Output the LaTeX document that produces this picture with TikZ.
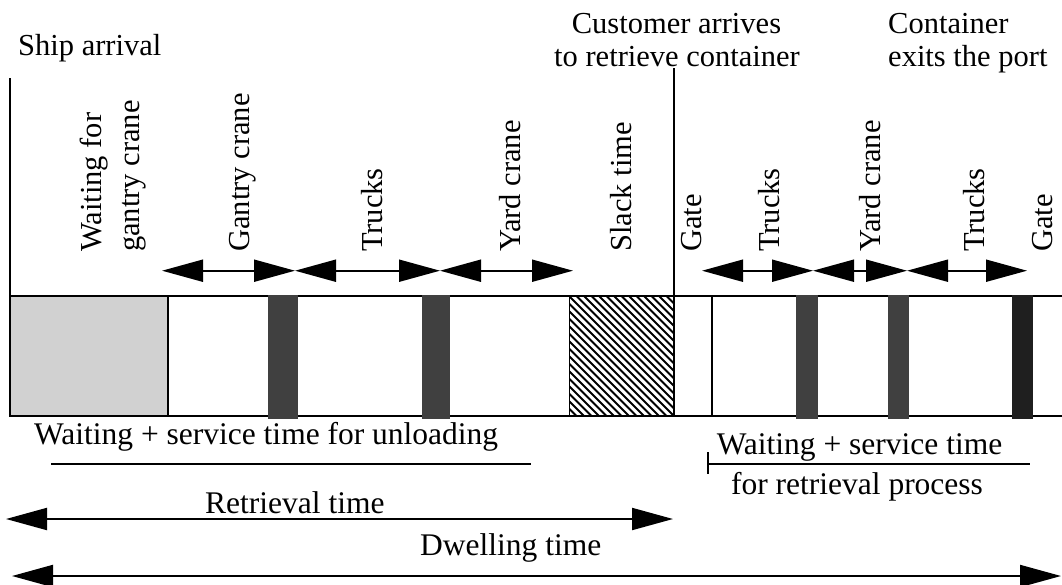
\documentclass[tikz,border=0pt]{standalone}
\usepackage{fontspec}
\setmainfont{Liberation Serif}
\usetikzlibrary{arrows.meta}
\begin{document}
\begin{tikzpicture}[x=1pt,y=-1pt,
  lbl/.style={inner sep=0pt, font=\fontsize{30.5}{36}\selectfont},
  blbl/.style={inner sep=0pt, font=\fontsize{31.5}{36}\selectfont},
  rlbl/.style={lbl, rotate=90, anchor=base west},
  axisline/.style={line width=2pt},
  thinline/.style={line width=1.8pt},
  dimarrow/.style={line width=2pt, {Triangle[length=41pt,width=22pt]}-{Triangle[length=41pt,width=22pt]}},
  darkbar/.style={fill=black!75, draw=none},
  blackbar/.style={fill=black!88, draw=none},
  waitbox/.style={fill=black!18, draw=none},
]
\useasboundingbox (0,0) rectangle (1062,584);

% ---- top labels
\node[lbl, anchor=base west] (ship) at (18,55) {Ship arrival};
\node[lbl, anchor=base] (cust1) at (676.5,33) {Customer arrives};
\node[lbl, anchor=base] (cust2) at (677,66) {to retrieve container};
\node[lbl, anchor=base west] (cont1) at (888,33) {Container};
\node[lbl, anchor=base west] (cont2) at (888,66) {exits the port};

% ---- rotated labels
\node[rlbl] (w1) at (101,252) {Waiting for};
\node[rlbl] (w2) at (139.5,252) {gantry crane};
\node[rlbl] (gc) at (249,252) {Gantry crane};
\node[rlbl] (tr1) at (382,252) {Trucks};
\node[rlbl] (yc1) at (520.5,252) {Yard crane};
\node[rlbl] (sl) at (631,252) {Slack time};
\node[rlbl] (ga1) at (701,252) {Gate};
\node[rlbl] (tr2) at (779,252) {Trucks};
\node[rlbl] (yc2) at (880,252) {Yard crane};
\node[rlbl] (tr3) at (984,252) {Trucks};
\node[rlbl] (ga2) at (1052,252) {Gate};

% ---- bar segments
\fill[waitbox] (11,297) rectangle (167,415);
\begin{scope}
  \clip (569,296) rectangle (674,416);
  \foreach \i in {0,...,32}
    \draw[line width=2.1pt] ({449+\i*7.5},296) -- ({569+\i*7.5},416);
\end{scope}
\draw[axisline] (10,296) -- (1062,296);
\draw[axisline] (10,416) -- (1062,416);
\draw[axisline] (10,78) -- (10,417);
\draw[axisline] (167.5,296) -- (167.5,416);
\draw[thinline] (569.5,296) -- (569.5,416);
\draw[axisline] (673.5,68) -- (673.5,416);
\draw[thinline] (711.7,296) -- (711.7,416);
\fill[darkbar] (268,295) rectangle (298,419);
\fill[darkbar] (422,295) rectangle (450,419);
\fill[darkbar] (796,295) rectangle (818,419);
\fill[darkbar] (888,295) rectangle (909,419);
\fill[blackbar] (1012,295) rectangle (1033,419);

% ---- arrows above the bar
\coordinate (a0) at (162,270.7);
\coordinate (a1) at (295,270.7);
\coordinate (a2) at (440,270.7);
\coordinate (a3) at (573,270.7);
\coordinate (b0) at (702,270.7);
\coordinate (b1) at (813,270.7);
\coordinate (b2) at (907,270.7);
\coordinate (b3) at (1027,270.7);
\draw[dimarrow] (a0) -- (a1);
\draw[dimarrow] (a1) -- (a2);
\draw[dimarrow] (a2) -- (a3);
\draw[dimarrow] (b0) -- (b1);
\draw[dimarrow] (b1) -- (b2);
\draw[dimarrow] (b2) -- (b3);

% ---- bottom labels and spans
\node[blbl, anchor=base west] (unl) at (34,444.4) {Waiting + service time for unloading};
\coordinate (u0) at (51,464);
\coordinate (u1) at (531,464);
\draw[axisline] (u0) -- (u1);

\node[blbl, anchor=base] (ret1) at (859.5,454) {Waiting + service time};
\node[blbl, anchor=base] (ret2) at (857,494.5) {for retrieval process};
\coordinate (v0) at (708,464);
\coordinate (v1) at (1030,464);
\coordinate (vt0) at (708,452);
\coordinate (vt1) at (708,473.5);
\draw[axisline] (v0) -- (v1);
\draw[line width=1.2pt] (vt0) -- (vt1);

\node[blbl, anchor=base west] (rt) at (205,513) {Retrieval time};
\coordinate (r0) at (6,519);
\coordinate (r1) at (673,519);
\draw[dimarrow] (r0) -- (r1);

\node[blbl, anchor=base west] (dw) at (420,555.5) {Dwelling time};
\coordinate (d0) at (12,576);
\coordinate (d1) at (1061,576);
\draw[dimarrow] (d0) -- (d1);
\end{tikzpicture}
\end{document}
